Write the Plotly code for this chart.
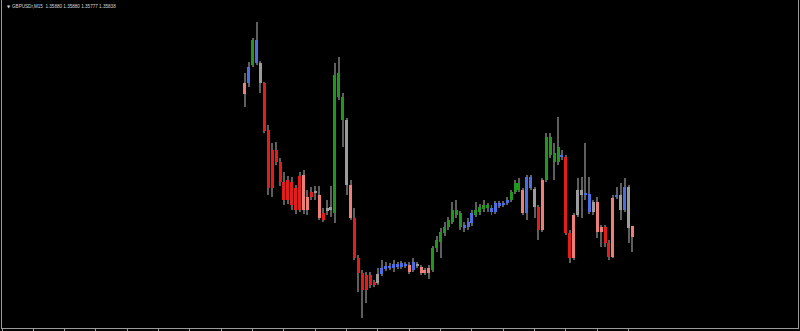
import plotly.graph_objects as go

# ---- data (GBPUSDr, M15) ----
bar_index = list(range(100))

opens = [1.36452, 1.36452, 1.36524, 1.36532, 1.36532, 1.36452, 1.36264, 1.36184, 1.36184, 1.36136,
         1.36056, 1.36064, 1.36056, 1.36032, 1.36080, 1.36084, 1.35996, 1.36016, 1.36020, 1.36004,
         1.35932, 1.35952, 1.35956, 1.35932, 1.36396, 1.36304, 1.36304, 1.36044, 1.35912, 1.35752,
         1.35692, 1.35684, 1.35684, 1.35656, 1.35652, 1.35688, 1.35708, 1.35712, 1.35712, 1.35716,
         1.35716, 1.35720, 1.35724, 1.35704, 1.35728, 1.35716, 1.35704, 1.35712, 1.35704, 1.35792,
         1.35816, 1.35852, 1.35876, 1.35896, 1.35924, 1.35876, 1.35872, 1.35876, 1.35892, 1.35924,
         1.35936, 1.35948, 1.35952, 1.35936, 1.35936, 1.35960, 1.35964, 1.35972, 1.35984, 1.36016,
         1.36024, 1.36024, 1.35932, 1.36032, 1.36028, 1.35956, 1.36064, 1.36064, 1.36164, 1.36136,
         1.36136, 1.36156, 1.36156, 1.35852, 1.35924, 1.36024, 1.36024, 1.36004, 1.35936, 1.35976,
         1.35976, 1.35876, 1.35876, 1.35812, 1.35992, 1.35996, 1.36004, 1.35944, 1.36036, 1.35880]

highs = [1.36492, 1.36536, 1.36632, 1.36696, 1.36540, 1.36456, 1.36284, 1.36212, 1.36216, 1.36152,
         1.36096, 1.36080, 1.36076, 1.36044, 1.36096, 1.36104, 1.36024, 1.36036, 1.36040, 1.36040,
         1.35952, 1.35984, 1.36040, 1.36532, 1.36556, 1.36412, 1.36312, 1.36064, 1.35952, 1.35764,
         1.35704, 1.35696, 1.35696, 1.35664, 1.35712, 1.35744, 1.35736, 1.35732, 1.35744, 1.35736,
         1.35740, 1.35736, 1.35736, 1.35752, 1.35736, 1.35724, 1.35712, 1.35724, 1.35800, 1.35840,
         1.35872, 1.35896, 1.35916, 1.35976, 1.35984, 1.35940, 1.35896, 1.35912, 1.35944, 1.35976,
         1.35968, 1.35984, 1.35972, 1.35964, 1.35980, 1.35980, 1.35980, 1.35996, 1.36024, 1.36064,
         1.36072, 1.36032, 1.36084, 1.36084, 1.36036, 1.35964, 1.36072, 1.36252, 1.36252, 1.36212,
         1.36316, 1.36184, 1.36164, 1.35864, 1.35932, 1.36072, 1.36076, 1.36212, 1.36076, 1.35984,
         1.35996, 1.35884, 1.35884, 1.35824, 1.36004, 1.36036, 1.36052, 1.36072, 1.36044, 1.35880]

lows = [1.36356, 1.36436, 1.36516, 1.36524, 1.36412, 1.36252, 1.36004, 1.35996, 1.36124, 1.36040,
        1.35964, 1.35968, 1.35944, 1.35928, 1.35936, 1.35928, 1.35924, 1.35984, 1.35984, 1.35904,
        1.35896, 1.35924, 1.35916, 1.35892, 1.36384, 1.36196, 1.36004, 1.35904, 1.35744, 1.35616,
        1.35512, 1.35572, 1.35632, 1.35636, 1.35644, 1.35680, 1.35700, 1.35704, 1.35696, 1.35708,
        1.35708, 1.35712, 1.35688, 1.35696, 1.35712, 1.35684, 1.35684, 1.35668, 1.35696, 1.35776,
        1.35752, 1.35840, 1.35864, 1.35888, 1.35912, 1.35864, 1.35856, 1.35864, 1.35880, 1.35916,
        1.35924, 1.35936, 1.35936, 1.35924, 1.35928, 1.35952, 1.35956, 1.35964, 1.35976, 1.36008,
        1.36016, 1.35924, 1.35904, 1.36024, 1.35912, 1.35824, 1.35856, 1.36056, 1.36152, 1.36064,
        1.36124, 1.36144, 1.35844, 1.35732, 1.35744, 1.35916, 1.35912, 1.35984, 1.35928, 1.35924,
        1.35832, 1.35796, 1.35796, 1.35744, 1.35752, 1.35988, 1.35904, 1.35936, 1.35812, 1.35777]

closes = [1.36408, 1.36516, 1.36624, 1.36624, 1.36452, 1.36260, 1.36032, 1.36032, 1.36136, 1.36056,
          1.35984, 1.35984, 1.35964, 1.35944, 1.35944, 1.35944, 1.35944, 1.35996, 1.36012, 1.35912,
          1.35904, 1.35940, 1.35944, 1.36484, 1.36492, 1.36396, 1.36044, 1.35912, 1.35752, 1.35692,
          1.35624, 1.35624, 1.35644, 1.35644, 1.35688, 1.35712, 1.35720, 1.35720, 1.35728, 1.35728,
          1.35732, 1.35728, 1.35696, 1.35736, 1.35720, 1.35692, 1.35692, 1.35692, 1.35792, 1.35824,
          1.35856, 1.35876, 1.35904, 1.35944, 1.35944, 1.35932, 1.35884, 1.35896, 1.35932, 1.35944,
          1.35956, 1.35964, 1.35964, 1.35952, 1.35972, 1.35972, 1.35972, 1.35984, 1.36016, 1.36052,
          1.36052, 1.35932, 1.36076, 1.36076, 1.35956, 1.35864, 1.35864, 1.36236, 1.36236, 1.36172,
          1.36196, 1.36164, 1.35852, 1.35752, 1.35752, 1.35924, 1.36004, 1.36012, 1.36008, 1.35936,
          1.35856, 1.35856, 1.35812, 1.35756, 1.35756, 1.36004, 1.35944, 1.36036, 1.35872, 1.35838]

# candle colour classes (R=strong bear, S=weak bear, G=strong bull, B=weak bull, Y=neutral)
colour_class = list(
    "SBGBYRRRRR"
    "RRRRRSSRYS"
    "RYYGGGYSRR"
    "RRRRYBBBBB"
    "BBSBYSSSGG"
    "GGGGGGBBBG"
    "GGGBBBBBGG"
    "GSBBYRSGGG"
    "GBRRSYYBBY"
    "SSRRSBYBYS"
)

title_text = "GBPUSDr,M15  1.35880 1.35880 1.35777 1.35838"

palette = {"R": "#e31c1c", "S": "#ee7f78", "G": "#23961f", "B": "#4a6fe0", "Y": "#9c9c9c"}

bar_px = 3.916           # pixels per bar slot
body_w = 3.0 / bar_px    # 3 px bodies
wick_w = 1.0 / bar_px    # 1 px wicks

fig = go.Figure()

# wicks (thin bars, drawn first so bodies sit on top)
fig.add_trace(go.Bar(x=bar_index,
                     y=[h - l for h, l in zip(highs, lows)],
                     base=lows, width=wick_w,
                     marker=dict(color="#5e5e5e", line=dict(width=0)),
                     hoverinfo="skip", showlegend=False))

# bodies, one trace per colour class
for key in ["Y", "B", "G", "S", "R"]:
    xs, base, height = [], [], []
    for i, o, c, k in zip(bar_index, opens, closes, colour_class):
        if k != key:
            continue
        xs.append(i)
        base.append(min(o, c))
        height.append(abs(c - o))
    fig.add_trace(go.Bar(x=xs, y=height, base=base, width=body_w,
                         marker=dict(color=palette[key], line=dict(width=0)),
                         hoverinfo="skip", showlegend=False))

x0 = -62
x1 = x0 + 796 / bar_px

fig.update_layout(
    width=800, height=331,
    margin=dict(l=2, r=2, t=0, b=3),
    paper_bgcolor="#000000", plot_bgcolor="#000000",
    barmode="overlay", bargap=0,
    showlegend=False, hovermode=False,
    xaxis=dict(range=[x0, x1], showgrid=False, zeroline=False,
               showline=True, linecolor="#9a9a9a", linewidth=1,
               ticks="outside", ticklen=3, tickcolor="#9a9a9a", tickwidth=1,
               tickvals=list(range(-62, 99, 8)), showticklabels=False,
               fixedrange=True),
    yaxis=dict(range=[1.35472, 1.36784], showgrid=False, zeroline=False,
               showline=True, mirror=True, linecolor="#9a9a9a", linewidth=1,
               showticklabels=False, ticks="", fixedrange=True),
    annotations=[
        dict(xref="paper", yref="paper", x=3 / 796, y=1 - 6 / 328,
             xanchor="left", yanchor="middle", showarrow=False,
             text="▼", font=dict(family="DejaVu Sans", size=4, color="#d8d8d8")),
        dict(xref="paper", yref="paper", x=8 / 796, y=1 - 6 / 328,
             xanchor="left", yanchor="middle", showarrow=False,
             text=title_text,
             font=dict(family="Liberation Sans", size=4.6, color="#d8d8d8")),
    ],
)

fig.write_html("out.html", config={"displayModeBar": False})
